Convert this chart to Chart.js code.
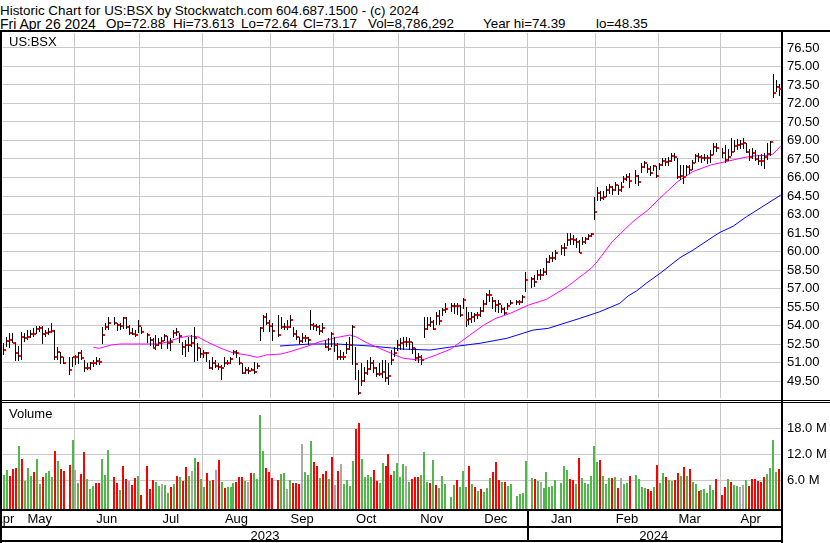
<!DOCTYPE html>
<html>
<head>
<meta charset="utf-8">
<title>US:BSX</title>
<script src="https://cdn.jsdelivr.net/npm/chart.js@4.4.1/dist/chart.umd.min.js"></script>
<style>
  body { margin: 0; background: #fff; }
  #wrap { position: relative; width: 830px; height: 543px; overflow: hidden; background: #fff;
          font-family: "Liberation Sans", Arial, sans-serif; color: #000; }
  .txt { position: absolute; white-space: pre; line-height: 1; }
  .hdr { font-size: 13.4px; }
  .small { font-size: 13px; }
  .rule { position: absolute; background: #000; }
  canvas { position: absolute; left: 0; }
</style>
</head>
<body>
<div id="wrap">
  <div class="txt hdr" style="left:0;top:4px">Historic Chart for US:BSX by Stockwatch.com 604.687.1500 - (c) 2024</div>
  <div class="txt hdr" style="left:0;top:17px;font-size:14px">Fri Apr 26 2024</div>
  <div class="txt hdr" style="left:106px;top:17px">Op=72.88</div>
  <div class="txt hdr" style="left:173px;top:17px">Hi=73.613</div>
  <div class="txt hdr" style="left:241px;top:17px">Lo=72.64</div>
  <div class="txt hdr" style="left:303px;top:17px">Cl=73.17</div>
  <div class="txt hdr" style="left:368px;top:17px">Vol=8,786,292</div>
  <div class="txt hdr" style="left:483px;top:17px">Year hi=74.39</div>
  <div class="txt hdr" style="left:596px;top:17px">lo=48.35</div>

  <canvas id="priceChart" width="830" height="370" style="top:31px"></canvas>
  <canvas id="volChart" width="830" height="142" style="top:401px"></canvas>

  <div class="txt small" style="left:9px;top:35px">US:BSX</div>
  <div class="txt small" style="left:9px;top:407px">Volume</div>

  <div class="rule" style="left:0;top:30px;width:830px;height:2px"></div>
  <div class="rule" style="left:0;top:30px;width:2px;height:513px"></div>
  <div class="rule" style="left:781px;top:30px;width:2px;height:513px"></div>
  <div class="rule" style="left:0;top:400px;width:830px;height:1px"></div>
  <div class="rule" style="left:0;top:402px;width:830px;height:1px"></div>
  <div class="rule" style="left:0;top:509px;width:783px;height:2px"></div>
  <div class="rule" style="left:0;top:526px;width:783px;height:2px"></div>
  <div class="rule" style="left:0;top:540px;width:783px;height:2px"></div>
  <div class="rule" style="left:527px;top:509px;width:2px;height:33px"></div>
</div>

<script>
// Weekday slots from Wed Apr 26 2023 (slot 0); market holidays stay empty
const holidaySlots = [23, 38, 49, 93, 151, 173, 178, 188, 213, 242];
const firstSlot = 2;   // Apr 28 2023
const lastSlot = 262;  // Apr 26 2024

const monthNames = ['Apr', 'May', 'Jun', 'Jul', 'Aug', 'Sep', 'Oct', 'Nov', 'Dec', 'Jan', 'Feb', 'Mar', 'Apr'];
const monthBounds = [-0.5, 2.5, 25.5, 47.5, 68.5, 91.5, 112.5, 134.5, 156.5, 177.5, 200.5, 221.5, 242.5, 262.5];
const yearNames = ['2023', '2024'];
const yearBounds = [-0.5, 177.5, 262.5];

const priceTicks = [49.5, 51, 52.5, 54, 55.5, 57, 58.5, 60, 61.5, 63, 64.5, 66, 67.5, 69, 70.5, 72, 73.5, 75, 76.5];
const volTicks = [6, 12, 18];

// daily high / low / close, one entry per trading day
const high = [
  52.55,53.1,53.4,53.4,52.7,52.3,53.5,53.4,53.6,53.6,53.76,54.0,54.0,54.0,53.63,53.76,54.17,53.63,52.28,51.87,51.47,51.47,51.47,
  51.6,51.87,52.0,51.2,50.93,51.06,51.2,51.47,51.33,53.9,54.17,54.7,54.7,54.17,54.17,54.7,54.7,54.03,53.76,53.63,54.44,
  53.9,53.36,53.1,52.95,53.22,52.95,53.09,53.3,53.14,52.95,53.63,53.76,53.36,52.68,52.82,53.09,53.2,53.9,52.55,52.14,
  52.0,51.87,51.2,51.47,51.2,50.93,50.8,51.47,51.2,51.47,52.0,52.0,51.47,50.93,50.66,50.66,50.52,51.06,51.0,53.9,54.85,55.0,54.45,
  54.17,54.85,54.7,54.2,54.44,54.85,53.9,53.63,53.09,53.36,53.22,53.09,55.25,54.17,54.1,54.03,54.17,52.82,52.95,53.5,
  53.09,52.55,52.0,51.87,52.68,53.09,54.03,52.28,50.39,50.93,50.66,51.2,51.47,51.2,50.66,50.93,51.2,51.2,51.0,52.0,52.28,52.8,
  52.96,53.09,53.1,52.96,52.69,52.15,51.8,51.6,54.7,54.7,54.7,54.45,55.1,55.26,55.4,55.8,55.8,55.8,55.8,55.7,56.2,
  55.53,55.1,55.1,55.0,55.1,55.53,56.07,56.6,56.88,56.34,56.07,56.07,55.66,55.53,55.8,56.07,56.07,56.07,56.47,58.37,
  57.96,58.1,58.5,58.56,58.64,59.45,59.72,59.99,60.12,60.53,60.66,61.48,61.48,61.34,61.07,60.94,61.2,61.2,61.42,61.53,64.45,
  65.2,64.9,64.9,65.3,65.5,65.3,65.6,65.4,65.6,66.1,66.3,66.4,66.6,66.2,67.2,67.3,67.1,66.9,67.0,66.9,
  67.2,67.56,67.56,67.7,68.0,67.96,67.6,67.0,67.0,67.0,67.0,67.4,67.9,68.0,67.8,67.9,67.85,68.23,68.77,68.8,
  68.4,68.6,68.3,69.17,69.0,69.1,69.0,69.2,68.8,68.3,68.4,68.2,67.8,67.9,68.0,68.77,68.98,74.39,73.9,73.613
];
const low = [
  51.6,52.3,52.2,52.6,51.2,51.1,51.2,52.7,52.8,52.95,53.0,53.36,53.5,52.55,53.1,53.2,53.36,51.2,51.2,50.9,50.9,50.03,50.66,
  50.8,50.93,51.2,50.25,50.39,50.39,50.66,50.8,50.8,52.55,53.63,53.63,54.03,53.5,53.63,53.76,53.76,53.22,53.22,53.09,53.36,
  53.3,52.55,52.4,52.06,52.0,52.28,52.14,52.76,52.06,51.87,52.95,53.09,52.55,51.6,51.47,51.87,52.2,51.06,51.06,51.33,
  51.33,51.06,50.44,50.39,50.52,50.39,49.57,50.66,50.8,50.93,51.6,51.33,50.8,50.06,50.12,50.12,50.25,50.06,50.5,52.8,53.5,54.0,53.5,
  52.68,53.09,53.76,53.6,53.63,53.76,53.09,52.82,52.55,52.55,52.68,52.41,53.63,53.63,53.5,53.22,53.36,52.14,51.87,52.28,
  51.87,51.2,51.2,51.2,51.74,52.0,50.79,49.57,48.35,49.03,49.44,49.98,50.39,50.12,49.84,49.84,49.71,49.44,49.2,50.79,51.47,51.9,
  52.0,52.0,52.3,52.02,51.75,51.07,51.0,50.8,52.96,53.64,53.9,53.64,54.04,54.04,54.72,54.99,55.1,54.9,54.85,54.72,55.3,
  53.9,54.04,54.2,54.3,54.5,54.72,55.1,55.66,55.93,55.39,55.12,55.0,54.99,54.85,55.26,55.66,55.66,55.66,55.8,56.77,
  57.1,57.15,57.7,57.7,57.96,58.1,59.04,59.18,59.31,59.72,59.58,60.4,60.53,60.53,60.26,59.85,60.53,60.66,60.9,61.2,62.56,
  64.1,64.1,64.2,64.4,64.7,64.6,64.9,64.6,64.8,65.5,65.7,65.2,65.5,65.3,66.4,66.75,66.35,66.1,66.5,65.9,
  66.6,66.9,66.9,67.0,67.3,67.3,65.93,65.8,65.5,66.07,66.3,66.6,67.15,67.3,67.15,67.3,67.15,67.2,67.82,68.1,
  67.6,67.15,67.3,67.7,68.0,68.2,68.3,68.3,68.0,67.3,67.5,67.3,67.0,66.9,66.74,67.4,67.8,72.42,72.9,72.64
];
const close = [
  52.0,52.76,52.8,52.6,51.8,51.5,53.1,53.0,53.1,53.3,53.3,53.68,53.76,53.3,53.4,53.5,53.57,51.47,51.87,51.47,50.98,50.39,51.41,
  51.47,51.79,51.33,50.57,50.57,50.93,50.98,51.14,51.06,53.22,53.9,54.22,54.17,54.03,53.95,54.57,53.9,53.41,53.3,53.22,53.95,
  53.5,53.22,52.8,52.2,52.41,52.55,52.76,53.14,52.55,52.68,53.36,53.5,53.14,52.22,52.41,52.41,52.6,52.95,52.14,51.68,
  51.79,51.79,50.57,50.93,50.71,50.66,50.52,50.93,50.98,51.25,51.87,51.74,50.93,50.17,50.39,50.3,50.39,50.25,50.71,53.8,54.65,54.2,53.95,
  53.57,53.22,53.84,53.84,53.84,54.44,53.3,53.09,52.76,52.95,52.95,52.82,54.03,53.95,53.84,53.57,53.76,52.28,52.06,53.3,
  52.41,51.47,51.47,51.47,52.06,52.41,53.84,50.87,48.55,49.52,50.11,50.44,50.93,50.52,50.03,50.03,50.25,49.71,49.9,51.2,51.74,52.4,
  52.55,52.69,52.69,52.69,52.15,51.34,51.42,51.2,53.69,54.04,54.3,53.69,54.77,54.4,55.26,55.3,55.58,55.58,55.58,54.85,56.07,
  54.45,54.5,54.72,54.85,54.85,55.2,55.75,56.47,56.47,56.0,55.66,55.75,55.3,55.04,55.58,55.85,55.9,55.9,56.29,57.69,
  57.77,57.56,58.1,58.1,58.37,59.18,59.45,59.45,59.85,60.26,60.26,60.94,60.99,60.94,60.8,59.9,60.8,61.0,61.26,61.42,63.23,
  64.77,64.31,64.45,64.98,65.2,64.98,65.4,64.98,65.2,65.85,66.07,65.74,66.12,65.66,66.88,67.2,66.66,66.39,66.93,66.12,
  67.0,67.36,67.28,67.36,67.74,67.64,66.07,66.12,66.07,66.82,66.6,67.2,67.74,67.69,67.6,67.62,67.6,67.82,68.5,68.37,
  67.96,67.42,67.7,68.1,68.55,68.63,68.7,68.8,68.1,67.7,67.96,67.47,67.36,67.3,67.7,67.9,68.9,72.88,73.3,73.17
];

// daily volume in millions, and day direction (1 up, -1 down, 0 unchanged)
const volume = [
  7.3,8.4,7.0,8.7,9.0,14.0,11.0,6.0,8.9,7.0,8.0,11.0,5.2,6.8,7.7,8.3,6.8,12.8,10.5,8.7,8.2,9.6,15.4,
  8.4,5.4,7.5,12.5,6.3,4.0,4.8,5.4,5.4,11.0,7.3,13.0,6.8,5.4,3.8,9.3,6.3,6.0,5.0,6.6,7.0,
  2.7,9.3,4.0,6.1,5.7,4.7,5.2,5.0,3.1,4.5,5.2,7.0,6.8,6.0,9.1,7.0,8.2,11.2,10.3,6.3,
  4.5,7.7,6.0,6.1,8.4,10.7,5.7,4.3,4.5,4.5,5.4,5.7,6.8,6.8,6.0,5.7,7.7,7.7,6.3,21.1,12.8,8.9,8.0,
  6.6,6.1,7.5,7.7,4.0,6.1,5.4,5.4,5.2,14.4,8.0,7.3,15.1,10.3,9.3,6.6,7.5,8.2,6.3,11.4,
  5.0,8.2,9.8,5.2,6.1,4.7,10.5,17.9,19.3,11.0,6.8,7.3,6.8,8.4,5.9,5.4,10.0,9.3,12.1,7.3,8.2,10.0,
  6.8,9.8,9.3,5.7,6.3,6.8,6.8,7.3,12.6,5.7,5.4,10.7,5.0,4.3,7.0,5.2,2.2,5.0,6.1,4.5,8.2,
  4.5,9.3,5.2,4.5,3.6,4.0,3.4,4.3,6.6,8.0,10.3,6.1,5.7,5.7,4.7,5.2,2.4,2.9,3.1,10.5,
  6.6,6.3,5.9,5.7,4.3,8.0,4.5,4.7,6.1,5.4,9.3,8.4,6.3,6.1,5.2,11.2,6.6,5.4,5.2,7.0,14.0,
  10.3,10.7,7.0,5.2,6.6,6.6,6.8,4.3,6.6,5.2,5.4,7.0,7.3,6.3,4.5,4.3,4.0,3.6,4.5,9.6,
  5.4,7.7,6.8,6.1,5.9,6.1,7.7,7.0,9.1,7.0,8.7,5.7,5.2,3.6,3.8,4.0,3.1,5.0,3.8,6.3,
  2.7,4.5,6.3,5.7,5.0,4.7,4.5,5.0,6.1,4.7,6.3,6.3,5.9,5.7,6.8,7.5,8.9,15.4,8.0,8.7
];
const volDir = [
  1,1,-1,-1,-1,1,-1,1,1,1,-1,1,1,-1,1,1,1,-1,1,-1,-1,-1,1,
  0,1,-1,-1,1,1,1,-1,-1,1,1,1,-1,-1,1,-1,-1,0,-1,-1,1,
  -1,-1,-1,-1,1,1,0,1,1,-1,1,-1,1,-1,-1,1,0,1,-1,1,
  1,-1,1,-1,0,-1,1,-1,1,1,1,-1,-1,-1,1,0,-1,1,1,1,1,-1,-1,
  -1,-1,1,1,0,1,-1,-1,-1,0,1,1,1,-1,-1,1,-1,-1,1,-1,
  0,-1,0,1,1,1,1,-1,-1,1,1,1,1,-1,-1,1,1,-1,-1,-1,1,1,
  1,1,0,1,-1,-1,-1,1,1,1,-1,1,-1,1,1,1,1,1,-1,1,1,
  1,-1,1,-1,1,-1,1,1,1,-1,-1,-1,1,-1,1,1,1,1,1,1,
  1,-1,1,0,1,1,1,1,1,1,1,1,-1,-1,1,-1,1,1,1,1,1,
  1,-1,1,1,1,-1,1,-1,0,1,1,-1,1,1,1,1,-1,-1,1,-1,
  1,1,-1,1,1,-1,-1,1,-1,1,-1,1,1,-1,1,1,1,1,1,-1,
  -1,-1,1,-1,1,1,0,0,1,-1,-1,-1,-1,-1,-1,1,1,1,1,-1
];

// moving averages (slot, value)
const maShortSlots = [32, 34, 38, 41, 48, 54, 57, 61, 64, 67, 70, 74.5, 79, 83.5, 87, 90, 95, 98, 105, 108, 114, 118, 120, 124, 128, 134, 136, 141, 143, 147, 152, 156, 163, 167, 172, 178, 184, 191, 199, 201, 206, 213, 218, 222, 228, 233, 239, 244, 250, 253, 258, 260, 262.6];
const maShortValues = [52.23, 52.15, 52.42, 52.5, 52.5, 52.5, 52.69, 53.01, 53.15, 53.09, 52.69, 52.18, 51.77, 51.61, 51.42, 51.61, 51.69, 51.88, 52.42, 52.69, 53.04, 53.23, 53.09, 52.56, 52.15, 51.53, 51.34, 51.2, 51.26, 51.61, 52.1, 52.82, 54.04, 54.58, 55.0, 55.66, 56.12, 57.15, 58.64, 59.17, 60.79, 62.42, 63.36, 64.31, 65.66, 66.47, 67.01, 67.28, 67.61, 67.74, 67.8, 67.9, 68.55];
const maLongSlots = [94.6, 104.7, 113.7, 124.8, 135.9, 145, 152.6, 161.7, 170.7, 179.5, 184.6, 195.2, 201.9, 208.6, 211.4, 214.2, 217.6, 222.1, 228.8, 233.2, 239.9, 242.2, 246.6, 251.1, 262.6];
const maLongValues = [52.34, 52.5, 52.5, 52.34, 52.09, 52.01, 52.28, 52.56, 52.96, 53.63, 53.77, 54.58, 55.12, 55.8, 56.4, 56.8, 57.45, 58.23, 59.5, 60.12, 61.2, 61.55, 62.05, 62.82, 64.58];

const FONT = '"Liberation Sans", Arial, sans-serif';
const GRID = '#c8c8c8';
const X_MIN = 1.68;
const X_MAX = 262.67;

const daySlots = [];
for (let s = firstSlot; s <= lastSlot; s++) {
  if (!holidaySlots.includes(s)) daySlots.push(s);
}

const gridBounds = monthBounds.slice(2, monthBounds.length - 1);

// keep thin bars on whole pixels so they stay crisp
const pixelSnap = {
  id: 'pixelSnap',
  beforeDatasetsDraw(chart) {
    chart.data.datasets.forEach((ds, i) => {
      const meta = chart.getDatasetMeta(i);
      if (meta.type !== 'bar') return;
      meta.data.forEach(el => {
        const w = Math.round(el.width);
        el.x = Math.round(el.x - w / 2) + w / 2;
        el.width = w;
        const top = Math.round(Math.min(el.y, el.base));
        const h = Math.max(1, Math.round(Math.abs(el.base - el.y)));
        el.y = top;
        el.base = top + h;
      });
    });
  }
};

function xAxis(height) {
  return {
    type: 'linear', min: X_MIN, max: X_MAX, offset: false,
    grid: { color: GRID, lineWidth: 1, drawTicks: false, offset: false },
    border: { display: false },
    ticks: { display: false },
    afterBuildTicks: s => { s.ticks = gridBounds.map(v => ({ value: v })); },
    afterFit: s => { s.height = height; s.paddingLeft = 0; s.paddingRight = 0; }
  };
}

function yAxis(min, max, ticks, fmt) {
  return {
    position: 'right', min: min, max: max,
    grid: { color: GRID, lineWidth: 1, drawTicks: false },
    border: { display: false },
    ticks: { padding: 6, autoSkip: false, color: '#000', font: { family: FONT, size: 13 }, callback: fmt },
    afterBuildTicks: s => { s.ticks = ticks.map(v => ({ value: v })); },
    afterFit: s => { s.width = 49; s.paddingTop = 0; s.paddingBottom = 0; }
  };
}

const noPlugins = { legend: { display: false }, tooltip: { enabled: false } };

// price panel
new Chart(document.getElementById('priceChart'), {
  type: 'bar',
  data: {
    datasets: [
      {
        type: 'line',
        data: maLongSlots.map((s, i) => ({ x: s, y: maLongValues[i] })),
        borderColor: '#0000ff', borderWidth: 1, pointRadius: 0, tension: 0, order: 3
      },
      {
        type: 'line',
        data: maShortSlots.map((s, i) => ({ x: s, y: maShortValues[i] })),
        borderColor: '#ff00ff', borderWidth: 1, pointRadius: 0, tension: 0, order: 2
      },
      {
        data: daySlots.map((s, i) => ({ x: s, y: [low[i], high[i]] })),
        backgroundColor: '#000', grouped: false, barPercentage: 2, categoryPercentage: 1,
        maxBarThickness: 1, order: 1
      },
      {
        data: daySlots.map((s, i) => ({ x: s + 0.5, y: [close[i] - 0.08, close[i] + 0.08] })),
        backgroundColor: '#ff0000', grouped: false, barPercentage: 2, categoryPercentage: 1,
        maxBarThickness: 2, order: 0
      }
    ]
  },
  options: {
    responsive: false, animation: false,
    layout: { padding: { left: 3, right: 0, top: 2, bottom: 3 } },
    plugins: noPlugins,
    scales: {
      x: xAxis(0),
      y: yAxis(48.122, 77.716, priceTicks, v => v.toFixed(2))
    }
  },
  plugins: [pixelSnap]
});

// month and year labels under the volume panel
const axisLabels = {
  id: 'axisLabels',
  afterDraw(chart) {
    const { ctx } = chart;
    const x = chart.scales.x;
    const mid = (a, b) => (x.getPixelForValue(Math.max(a, x.min)) + x.getPixelForValue(Math.min(b, x.max))) / 2;
    ctx.save();
    ctx.fillStyle = '#000';
    ctx.font = '13px ' + FONT;
    ctx.textAlign = 'center';
    ctx.textBaseline = 'alphabetic';
    ctx.beginPath();
    ctx.rect(2, 0, 779, chart.height);
    ctx.clip();
    monthNames.forEach((m, i) => ctx.fillText(m, mid(monthBounds[i], monthBounds[i + 1]), 121.5));
    yearNames.forEach((y, i) => ctx.fillText(y, mid(yearBounds[i], yearBounds[i + 1]), 138.5));
    ctx.restore();
  }
};

// volume panel
const volColor = { '1': '#50b848', '-1': '#ff0000', '0': '#a8a8a8' };
new Chart(document.getElementById('volChart'), {
  type: 'bar',
  data: {
    datasets: [{
      data: daySlots.map((s, i) => ({ x: s, y: volume[i] })),
      backgroundColor: volDir.map(d => volColor[String(d)]),
      base: -0.577, grouped: false, barPercentage: 2, categoryPercentage: 1, maxBarThickness: 2
    }]
  },
  options: {
    responsive: false, animation: false,
    layout: { padding: { left: 3, right: 0, top: 2, bottom: 0 } },
    plugins: noPlugins,
    scales: {
      x: xAxis(34),
      y: yAxis(-0.577, 23.885, volTicks, v => v.toFixed(1) + ' M')
    }
  },
  plugins: [pixelSnap, axisLabels]
});
</script>
</body>
</html>
